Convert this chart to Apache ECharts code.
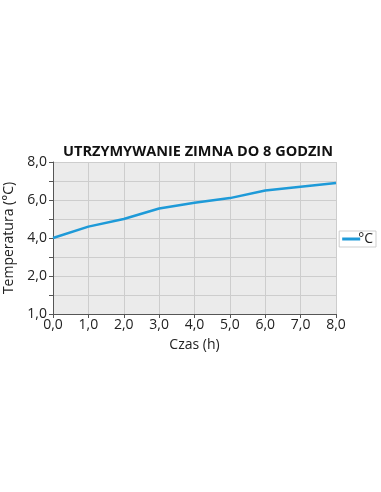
<!DOCTYPE html>
<html><head><meta charset="utf-8">
<script src="https://cdn.jsdelivr.net/npm/echarts@6/dist/echarts.min.js"></script>
<style>html,body{margin:0;padding:0;background:#fff}#c{width:381px;height:492px}</style>
</head><body><div id="c"></div>
<script>
const hours = [0, 1, 2, 3, 4, 5, 6, 7, 8];
const temps = [4.0, 4.6, 5.0, 5.55, 5.85, 6.1, 6.5, 6.7, 6.9];
const yLabels = {0: '1,0', 2: '2,0', 4: '4,0', 6: '6,0', 8: '8,0'};
const chart = echarts.init(document.getElementById('c'));
const fam = '"Open Sans", "DejaVu Sans", sans-serif';
chart.setOption({
  animation: false,
  title: {text: 'UTRZYMYWANIE ZIMNA DO 8 GODZIN', left: 193, textAlign: 'center', top: 139,
    textStyle: {fontSize: 14.5, fontWeight: 'bold', color: '#111', fontFamily: fam}},
  grid: {left: 53, right: 45, top: 162, bottom: 178, show: true, backgroundColor: '#ebebeb', borderWidth: 0,
    containLabel: false, outerBoundsMode: 'none'},
  legend: {right: 5, top: 231, orient: 'vertical', borderColor: '#cfcfcf', borderWidth: 1, padding: [1, 3],
    itemWidth: 18, itemHeight: 3, itemGap: 0,
    textStyle: {fontSize: 14, color: '#222', fontFamily: fam, padding: [0, 0, 0, -7]},
    data: [{name: '°C', icon: 'rect'}]},
  xAxis: {type: 'value', min: 0, max: 8, interval: 1, name: 'Czas (h)', nameLocation: 'middle', nameGap: 24,
    nameTextStyle: {fontSize: 14, color: '#222', fontFamily: fam},
    axisLine: {lineStyle: {color: '#555', width: 1}},
    axisTick: {show: true, length: 4, inside: false, lineStyle: {color: '#555'}},
    axisLabel: {fontSize: 14, color: '#222', fontFamily: fam, margin: 4, formatter: v => v.toFixed(1).replace('.', ',')},
    splitLine: {show: true, lineStyle: {color: '#cdcdcd', width: 1}}},
  yAxis: {type: 'value', min: 0, max: 8, interval: 1, name: 'Temperatura (°C)', nameLocation: 'middle', nameGap: 34,
    nameTextStyle: {fontSize: 14, color: '#222', fontFamily: fam},
    axisLine: {show: true, lineStyle: {color: '#555', width: 1}},
    axisTick: {show: true, length: 4, lineStyle: {color: '#555'}},
    axisLabel: {fontSize: 14, color: '#222', fontFamily: fam, margin: 6, formatter: v => yLabels[v] || ''},
    splitLine: {show: true, lineStyle: {color: '#cdcdcd', width: 1}}},
  series: [{name: '°C', type: 'line', data: hours.map((h, i) => [h, temps[i]]), showSymbol: false, symbol: 'none',
    lineStyle: {color: '#1e9ad8', width: 2.5}, itemStyle: {color: '#1e9ad8'}}]
});
</script></body></html>
